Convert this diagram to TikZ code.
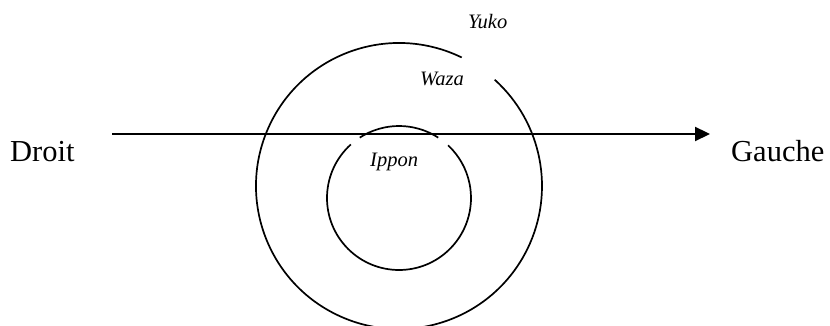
\documentclass[tikz,border=0pt]{standalone}
\usepackage{fontspec}
\setmainfont{Liberation Serif}
\usetikzlibrary{arrows.meta}

\begin{document}
\begin{tikzpicture}[x=1pt,y=1pt,>={Triangle[length=15pt,width=14pt]},
 ring/.style={line width=1.7pt},
 side/.style={inner sep=0pt,anchor=base west,font=\fontsize{30.5}{36}\selectfont},
 lvl/.style={inner sep=0pt,anchor=base west,font=\fontsize{20.5}{24}\selectfont\itshape}]
 \useasboundingbox (0,0) rectangle (830,326);
 % outer ring (Waza) with gap near Yuko
 \draw[ring] (399,140) ++(64:143) arc[start angle=64,end angle=408,radius=143];
 % inner ring (Ippon) with two gaps
 \draw[ring] (399,128) ++(57:72) arc[start angle=57,end angle=123,radius=72];
 \draw[ring] (399,128) ++(132:72) arc[start angle=132,end angle=407,radius=72];
 \node[side] (droit) at (10,164) {Droit};
 \node[side] (gauche) at (731,164) {Gauche};
 \node[lvl] (yuko) at (468,297) {Yuko};
 \node[lvl] (waza) at (420,240) {Waza};
 \node[lvl] (ippon) at (370,159) {Ippon};
 \coordinate (from) at (112,192);
 \coordinate (to) at (710,192);
 \draw[->,line width=2.2pt] (from) -- (to);
\end{tikzpicture}
\end{document}
